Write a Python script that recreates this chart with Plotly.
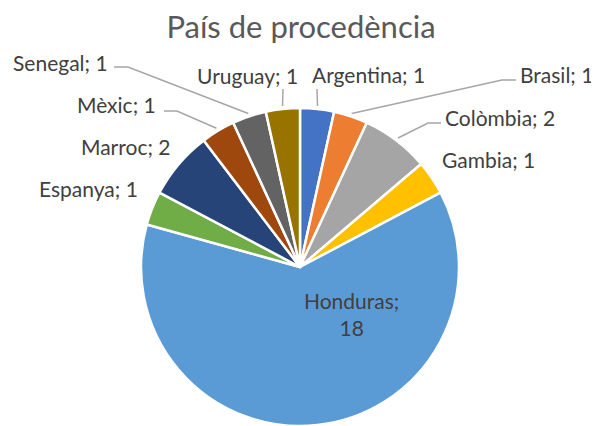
import math
import plotly.graph_objects as go

countries = ["Argentina", "Brasil", "Colòmbia", "Gambia", "Honduras",
             "Espanya", "Marroc", "Mèxic", "Senegal", "Uruguay"]
counts = [1, 1, 2, 1, 18, 1, 2, 1, 1, 1]
colors = ["#4472C4", "#ED7D31", "#A5A5A5", "#FFC000", "#5B9BD5",
          "#70AD47", "#264478", "#9E480E", "#636363", "#997300"]

W, H = 599, 426
OFF = 8  # page body margin offset, in pixels
CX, CY, R = 300, 267, 159  # pie centre and radius in window pixels (layout)

# label layout in window pixels: (x, y, xanchor)
label_pos = {
    "Argentina": (310, 75, "left"), "Brasil": (518, 74, "left"),
    "Colòmbia": (443, 117, "left"), "Gambia": (440, 159, "left"),
    "Honduras": (351, 314, "center"), "Espanya": (140, 188, "right"),
    "Marroc": (172, 147, "right"), "Mèxic": (158, 104, "right"),
    "Senegal": (110, 63, "right"), "Uruguay": (300, 76, "right"),
}
leader_pts = {
    "Argentina": [(317, 89)],
    "Uruguay": [(283, 89)],
    "Brasil": [(516, 80), (502, 80)],
    "Colòmbia": [(441, 123), (428, 123)],
    "Senegal": [(114, 67), (128, 67)],
    "Mèxic": [(164, 111), (177, 111)],
}

FONT = "Lato, Open Sans, sans-serif"


def px(x, y):
    return (x - OFF) / W, 1 - (y - OFF) / H


x0, y1 = px(CX - R, CY - R)
x1, y0 = px(CX + R, CY + R)

fig = go.Figure(go.Pie(
    labels=countries,
    values=counts,
    sort=False,
    direction="clockwise",
    rotation=0,
    marker=dict(colors=colors, line=dict(color="white", width=2.5)),
    textinfo="none",
    domain=dict(x=[x0, x1], y=[y0, y1]),
    showlegend=False,
    hoverinfo="label+value",
))

total = sum(counts)
cum = 0
annotations = []
shapes = []
for name, v in zip(countries, counts):
    mid = (cum + v / 2) / total * 2 * math.pi
    cum += v
    tx, ty, anc = label_pos[name]
    text = f"{name};<br>{v}" if name == "Honduras" else f"{name}; {v}"
    ax, ay = px(tx, ty)
    annotations.append(dict(
        x=ax, y=ay, xref="paper", yref="paper", text=text, showarrow=False,
        xanchor=anc, yanchor="middle",
        font=dict(family=FONT, size=21, color="#404040"),
    ))
    if name in leader_pts:
        ex = CX + (R + 3) * math.sin(mid)
        ey = CY - (R + 3) * math.cos(mid)
        pts = leader_pts[name] + [(ex, ey)]
        path = "M " + " L ".join(f"{px(x, y)[0]:.5f},{px(x, y)[1]:.5f}" for x, y in pts)
        shapes.append(dict(type="path", path=path, xref="paper", yref="paper",
                           line=dict(color="#A6A6A6", width=1.5)))

tx_, ty_ = px(301, 27)
fig.update_layout(
    width=W, height=H,
    margin=dict(l=0, r=0, t=0, b=0),
    paper_bgcolor="white",
    title=dict(text="País de procedència", x=tx_, xanchor="center",
               y=ty_, yanchor="middle",
               font=dict(family=FONT, size=31, color="#595959")),
    annotations=annotations,
    shapes=shapes,
)

fig.write_html("out.html")
